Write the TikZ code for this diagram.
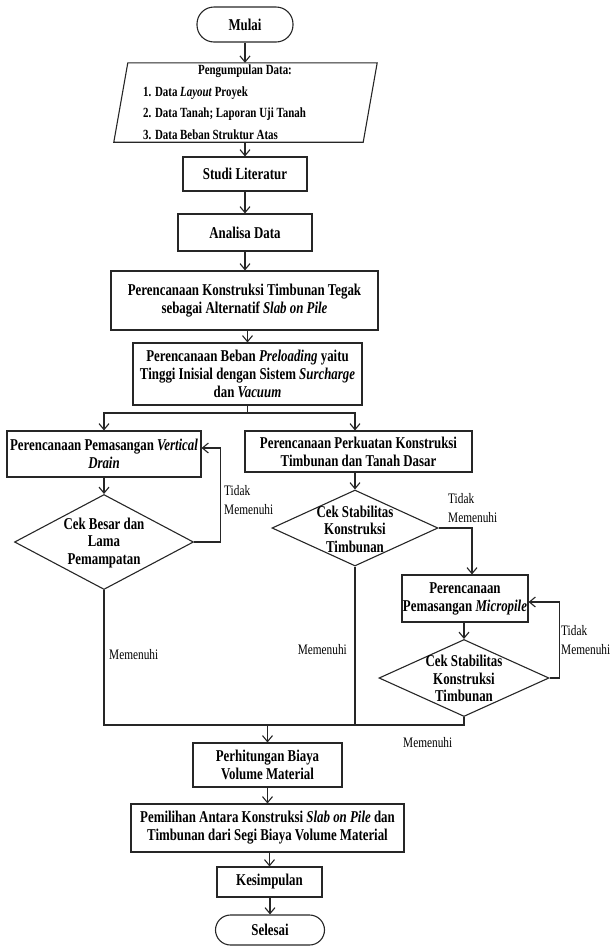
\documentclass[tikz,border=0pt]{standalone}
\usepackage{fontspec}
\setmainfont{Liberation Serif}[FakeStretch=0.78]
\usetikzlibrary{arrows.meta,shapes.geometric,calc}
\begin{document}
\begin{tikzpicture}[x=1pt,y=-1pt,
  every node/.style={inner sep=0pt, align=center, font=\fontsize{16.5}{18}\selectfont\bfseries},
  ln/.style={line width=1.1pt, draw=black!85},
  arr/.style={ln, -{Straight Barb[length=6pt,width=10pt,line width=1.1pt]}},
  box/.style={ln, draw, rectangle},
  term/.style={ln, draw, rectangle, rounded corners=15pt},
  dia/.style={ln, draw, diamond},
  dat/.style={font=\fontsize{14}{16}\selectfont\bfseries},
  dtx/.style={font=\fontsize{16.5}{17.5}\selectfont\bfseries},
  lab/.style={font=\fontsize{14.5}{16}\selectfont, anchor=west}]
\useasboundingbox (0,0) rectangle (613,946);

% top chain
\node[term, minimum width=96, minimum height=35, rounded corners=17pt] (mulai) at (245,24.5) {Mulai};
\node[minimum width=249, minimum height=79] (data) at (245.5,102.5) {};
\draw[ln] ([xshift=-7pt]data.south west) -- ([xshift=7pt]data.north west) -- ([xshift=7pt]data.north east) -- ([xshift=-7pt]data.south east) -- cycle;
\node[dat] (dtitle) at (245,71) {Pengumpulan Data:};
\node[dat, anchor=west] (ditem1) at (143,93) {1. Data \textit{Layout} Proyek};
\node[dat, anchor=west] (ditem2) at (143,114) {2. Data Tanah; Laporan Uji Tanah};
\node[dat, anchor=west] (ditem3) at (143,134.5) {3. Data Beban Struktur Atas};

\node[box, minimum width=124, minimum height=34] (studi) at (245,174) {Studi Literatur};
\node[box, minimum width=134, minimum height=37] (analisa) at (245,232.5) {Analisa Data};
\node[box, minimum width=267, minimum height=59] (konstr) at (244.5,300.5) {Perencanaan Konstruksi Timbunan Tegak\\sebagai Alternatif \textit{Slab on Pile}};
\node[box, minimum width=229, minimum height=62] (beban) at (247.5,374) {Perencanaan Beban \textit{Preloading} yaitu\\Tinggi Inisial dengan Sistem \textit{Surcharge}\\dan \textit{Vacuum}};

% branches
\node[box, minimum width=194, minimum height=46] (vd) at (104,454) {Perencanaan Pemasangan \textit{Vertical}\\\textit{Drain}};
\node[box, minimum width=227, minimum height=41] (perkuatan) at (358.5,451.5) {Perencanaan Perkuatan Konstruksi\\Timbunan dan Tanah Dasar};

\node[dia, minimum width=179, minimum height=95] (c1) at (104,542) {};
\node[dtx] (c1t) at (104,543) {Cek Besar dan\\Lama\\Pemampatan};
\node[dia, minimum width=166, minimum height=76] (c2) at (355,528) {};
\node[dtx] (c2t) at (355,529) {Cek Stabilitas\\Konstruksi\\Timbunan};

\node[box, minimum width=126, minimum height=47] (micro) at (465,598.5) {Perencanaan\\Pemasangan \textit{Micropile}};
\node[dia, minimum width=170, minimum height=77] (c3) at (464,678) {};
\node[dtx] (c3t) at (464,678.5) {Cek Stabilitas\\Konstruksi\\Timbunan};

% bottom chain
\node[box, minimum width=149, minimum height=44] (perhit) at (267.5,765) {Perhitungan Biaya\\Volume Material};
\node[box, minimum width=273, minimum height=48] (pemilihan) at (267.5,828) {Pemilihan Antara Konstruksi \textit{Slab on Pile} dan\\Timbunan dari Segi Biaya Volume Material};
\node[box, minimum width=105, minimum height=30] (kesimpulan) at (269.5,882) {Kesimpulan};
\node[term, minimum width=109, minimum height=30] (selesai) at (270,930) {Selesai};

% connectors
\draw[arr] (mulai.south) -- (mulai.south |- data.north);
\draw[arr] (data.south -| studi.north) -- (studi.north);
\draw[arr] (studi.south) -- (analisa.north);
\draw[arr] (analisa.south) -- (analisa.south |- konstr.north);
\draw[arr] (beban.north |- konstr.south) -- (beban.north);

\coordinate (split) at (247.5,413);
\draw[ln] (beban.south) -- (split);
\draw[arr] (split) -| (vd.north);
\draw[arr] (split) -| (perkuatan.north -| c2.north);

\draw[arr] (vd.south) -- (c1.north);
\draw[arr] (perkuatan.south -| c2.north) -- (c2.north);
\draw[arr] (c1.east) -- ++(26,0) |- ([yshift=6pt]vd.east);
\draw[arr] (c2.east) -| ([xshift=7pt]micro.north);
\draw[arr] (micro.south -| c3.north) -- (c3.north);
\draw[arr] (c3.east) -- ++(10,0) |- ([yshift=-3.5pt]micro.east);

\coordinate (merge) at (267.5,725);
\draw[ln] (c1.south) -- (c1.south |- merge) -- (c3.south |- merge) -- (c3.south);
\draw[ln] (c2.south) -- (c2.south |- merge);
\draw[arr] (merge) -- (perhit.north);
\draw[arr] (perhit.south) -- (pemilihan.north);
\draw[arr] (pemilihan.south -| kesimpulan.north) -- (kesimpulan.north);
\draw[arr] (kesimpulan.south -| selesai.north) -- (selesai.north);

% labels
\node[lab] (l1a) at (224,491) {Tidak};
\node[lab] (l1b) at (224,510) {Memenuhi};
\node[lab] (l2a) at (448,499) {Tidak};
\node[lab] (l2b) at (448,518) {Memenuhi};
\node[lab] (l3a) at (561,631) {Tidak};
\node[lab] (l3b) at (561,650) {Memenuhi};
\node[lab] (m1) at (109,655) {Memenuhi};
\node[lab, anchor=east] (m2) at (347,650) {Memenuhi};
\node[lab] (m3) at (403,743) {Memenuhi};
\end{tikzpicture}
\end{document}
